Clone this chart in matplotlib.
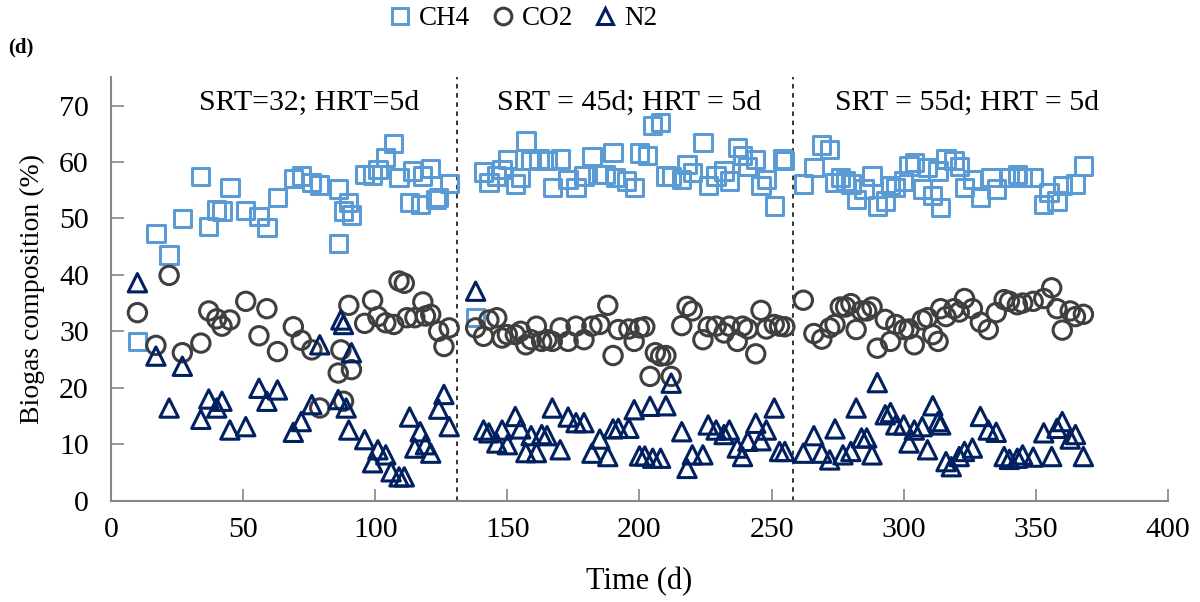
import matplotlib
matplotlib.use("Agg")
import matplotlib.pyplot as plt
from matplotlib.lines import Line2D

plt.rcParams["font.family"] = ["Liberation Serif", "DejaVu Serif"]

# Biogas composition over time, three operating periods
ch4_day = [10, 17, 22, 27, 34, 37, 40, 42, 45, 51, 56, 59, 63, 69, 72, 76, 79, 86, 86, 88,
           90, 91, 96, 99, 101, 104, 107, 109, 113, 114, 117, 118, 121, 123, 124, 128,
           138, 141, 143, 146, 148, 150, 153, 155, 157, 159, 162, 165, 167, 170, 173, 176,
           179, 182, 184, 187, 190, 191, 195, 198, 200, 203, 205, 208, 210, 212, 216, 218,
           220, 224, 226, 229, 232, 234, 237, 239, 241, 244, 246, 248, 251, 254, 255,
           262, 266, 269, 272, 274, 276, 278, 280, 282, 285, 288, 290, 293, 295, 297, 300,
           302, 304, 307, 309, 311, 313, 314, 316, 319, 321, 323, 326, 329, 333, 335, 340,
           343, 345, 349, 353, 355, 358, 360, 365, 368]
ch4_pct = [28.2, 47.3, 43.5, 50.0, 57.4, 48.5, 51.5, 51.3, 55.5, 51.4, 50.3, 48.4, 53.7, 57.1,
           57.5, 56.4, 55.9, 55.2, 45.6, 51.3, 52.8, 50.6, 57.8, 57.7, 58.7, 60.8, 63.3, 57.2,
           52.8, 58.4, 52.5, 57.5, 58.8, 53.4, 53.7, 56.2,
           32.4, 58.2, 56.4, 57.5, 58.7, 60.4, 56.1, 57.2, 63.7, 60.2, 60.5, 60.2, 55.5, 60.5,
           56.9, 55.5, 57.5, 61.0, 57.8, 57.8, 61.7, 57.2, 56.6, 55.5, 61.6, 61.2, 66.5, 67.0,
           57.5, 57.4, 56.9, 59.6, 58.1, 63.5, 55.8, 57.5, 58.4, 56.6, 62.6, 61.1, 59.2, 60.4,
           55.8, 56.9, 52.2, 60.5, 60.2,
           56.1, 59.0, 63.0, 62.2, 56.4, 57.2, 56.6, 56.1, 53.4, 55.2, 57.5, 52.2, 53.1, 55.8,
           55.5, 56.6, 59.3, 59.9, 55.2, 59.0, 54.0, 58.4, 51.9, 60.5, 60.2, 59.2, 55.5, 56.9,
           53.7, 57.2, 55.2, 57.2, 57.8, 57.2, 57.2, 52.5, 54.6, 53.1, 55.8, 56.1, 59.3]

co2_day = [10, 17, 22, 27, 34, 37, 40, 42, 45, 51, 56, 59, 63, 69, 72, 76, 79, 87, 86, 88,
           90, 91, 96, 99, 101, 104, 107, 109, 111, 112, 115, 118, 119, 121, 124, 126, 128,
           138, 141, 143, 146, 148, 150, 153, 155, 157, 159, 161, 163, 165, 167, 170, 173,
           176, 179, 182, 185, 188, 190, 192, 196, 198, 200, 202, 204, 206, 208, 210, 212,
           216, 218, 220, 224, 226, 229, 232, 234, 237, 239, 241, 244, 246, 248, 251, 253, 255,
           262, 266, 269, 272, 274, 276, 278, 280, 282, 284, 286, 288, 290, 293, 295, 297,
           300, 302, 304, 307, 309, 311, 313, 314, 316, 319, 321, 323, 326, 329, 332, 335,
           338, 340, 343, 345, 349, 353, 356, 358, 360, 363, 365, 368]
co2_pct = [33.3, 27.5, 39.9, 26.2, 27.9, 33.6, 32.2, 30.9, 32.0, 35.3, 29.2, 34.0, 26.4, 30.8,
           28.4, 26.7, 16.4, 26.7, 22.6, 17.6, 34.6, 23.2, 31.4, 35.5, 32.6, 31.5, 31.2, 38.9,
           38.5, 32.4, 32.4, 35.2, 32.7, 33.0, 30.0, 27.3, 30.6,
           30.6, 29.1, 32.0, 32.4, 28.8, 29.4, 29.4, 30.0, 27.6, 28.5, 30.9, 28.2, 28.5, 28.2,
           30.6, 28.2, 30.9, 28.5, 30.9, 31.2, 34.6, 25.7, 30.3, 30.4, 28.2, 30.6, 30.8, 22.0,
           26.2, 25.6, 25.7, 22.0, 31.0, 34.4, 33.6, 28.5, 30.8, 30.9, 29.7, 30.9, 28.2, 30.9,
           30.4, 26.0, 33.7, 30.4, 31.2, 30.9, 30.8,
           35.5, 29.6, 28.6, 30.6, 31.2, 34.3, 34.3, 34.9, 30.3, 33.6, 33.6, 34.3, 27.0, 32.1,
           28.2, 31.2, 30.3, 30.4, 27.6, 32.0, 32.4, 29.4, 28.2, 34.0, 32.6, 34.0, 33.4, 35.8,
           34.0, 31.6, 30.3, 33.3, 35.6, 35.3, 34.7, 35.0, 35.3, 35.8, 37.7, 34.0, 30.2, 33.6,
           32.6, 33.0]

n2_day = [10, 17, 22, 27, 34, 37, 40, 42, 45, 51, 56, 59, 63, 69, 72, 76, 79, 86, 87, 88,
          89, 90, 91, 96, 99, 101, 104, 106, 109, 111, 113, 115, 117, 119, 121, 124, 126, 128,
          138, 141, 143, 146, 148, 150, 153, 155, 157, 159, 161, 163, 165, 167, 170, 173, 176,
          179, 182, 185, 188, 190, 192, 196, 198, 200, 202, 204, 205, 208, 210, 212, 216, 218,
          220, 224, 226, 229, 232, 234, 237, 239, 241, 244, 246, 248, 251, 253, 255,
          262, 266, 269, 272, 274, 277, 280, 282, 284, 286, 288, 290, 293, 295, 297, 300,
          302, 304, 307, 309, 311, 313, 314, 316, 318, 321, 323, 326, 329, 332, 335, 338,
          340, 343, 345, 349, 353, 356, 358, 360, 363, 365, 368]
n2_pct = [38.6, 25.6, 16.4, 23.8, 14.4, 18.0, 16.4, 17.6, 12.5, 13.1, 19.9, 17.6, 19.6, 12.1,
          14.0, 17.0, 27.6, 17.9, 32.0, 31.2, 16.4, 12.5, 26.2, 10.8, 6.7, 9.0, 8.1, 5.1, 4.2,
          4.2, 14.8, 9.3, 12.2, 9.9, 8.4, 16.2, 18.8, 13.1,
          37.1, 12.5, 12.0, 10.2, 12.5, 9.9, 14.9, 12.7, 8.5, 11.5, 8.5, 11.7, 11.5, 16.4,
          9.0, 14.8, 13.8, 13.8, 8.4, 10.9, 7.8, 12.7, 12.8, 12.8, 16.1, 7.9, 7.9, 16.7, 7.5,
          7.5, 16.8, 20.8, 12.2, 5.7, 8.1, 8.1, 13.4, 12.5, 11.7, 12.5, 9.3, 7.8, 10.5, 13.7,
          10.6, 12.5, 16.4, 8.7, 8.7,
          8.4, 11.5, 8.4, 7.2, 12.7, 8.1, 8.7, 16.4, 11.1, 11.1, 8.1, 20.9, 15.2, 15.6, 13.4,
          13.4, 10.2, 12.5, 13.1, 9.0, 16.8, 14.0, 13.4, 6.9, 6.0, 7.8, 8.7, 9.3, 14.9, 12.5,
          12.1, 7.8, 7.3, 7.5, 8.1, 7.7, 12.0, 7.8, 12.8, 14.0, 10.9, 11.7, 7.8]

period_bounds = [131, 258]
period_labels = ["SRT=32; HRT=5d", "SRT = 45d; HRT = 5d", "SRT = 55d; HRT = 5d"]
period_label_x = [75, 196, 324]

CH4_COLOR = "#5b9bd5"
CO2_COLOR = "#3f3f3f"
N2_COLOR = "#002060"
AXIS_GRAY = "#868686"

fig = plt.figure(figsize=(12, 6.02), dpi=100)
ax = fig.add_axes([0.0925, 0.1685, 0.8808, 0.7031])

ax.scatter(ch4_day, ch4_pct, marker="s", s=155, facecolors="none",
           edgecolors=CH4_COLOR, linewidths=2.2, zorder=3)
ax.scatter(co2_day, co2_pct, marker="o", s=175, facecolors="none",
           edgecolors=CO2_COLOR, linewidths=2.2, zorder=3)
ax.scatter(n2_day, n2_pct, marker="^", s=175, facecolors="none",
           edgecolors=N2_COLOR, linewidths=2.2, zorder=3)

for xb in period_bounds:
    ax.axvline(xb, color="black", linestyle=(0, (3, 3)), linewidth=1.1, zorder=2)

for lx, text in zip(period_label_x, period_labels):
    ax.text(lx, 70.4, text, ha="center", va="center", fontsize=21.5)

ax.set_xlim(0, 400)
ax.set_ylim(0, 75)
ax.set_xticks(range(0, 401, 50))
ax.set_yticks(range(0, 71, 10))

for side in ("top", "right"):
    ax.spines[side].set_visible(False)
for side in ("left", "bottom"):
    ax.spines[side].set_color(AXIS_GRAY)
    ax.spines[side].set_linewidth(1.5)

ax.tick_params(axis="both", direction="in", length=9, width=1.2,
               color=AXIS_GRAY, labelsize=21.5)
ax.tick_params(axis="x", pad=12)
ax.tick_params(axis="y", pad=16)

ax.set_xlabel("Time (d)", fontsize=22, labelpad=17)
ax.set_ylabel("Biogas composition (%)", fontsize=20, labelpad=10)

handles = [
    Line2D([], [], linestyle="none", marker="s", markersize=12, markerfacecolor="none",
           markeredgecolor=CH4_COLOR, markeredgewidth=2.2, label="CH4"),
    Line2D([], [], linestyle="none", marker="o", markersize=12, markerfacecolor="none",
           markeredgecolor=CO2_COLOR, markeredgewidth=2.2, label="CO2"),
    Line2D([], [], linestyle="none", marker="^", markersize=12, markerfacecolor="none",
           markeredgecolor=N2_COLOR, markeredgewidth=2.2, label="N2"),
]
fig.legend(handles=handles, loc="upper center", bbox_to_anchor=(0.435, 1.03), ncol=3,
           frameon=False, fontsize=19.5, handletextpad=0.2, columnspacing=0.7,
           handlelength=1.0)

fig.text(0.007, 0.912, "(d)", fontsize=15, fontweight="bold")

fig.savefig("out.png", dpi=100)
